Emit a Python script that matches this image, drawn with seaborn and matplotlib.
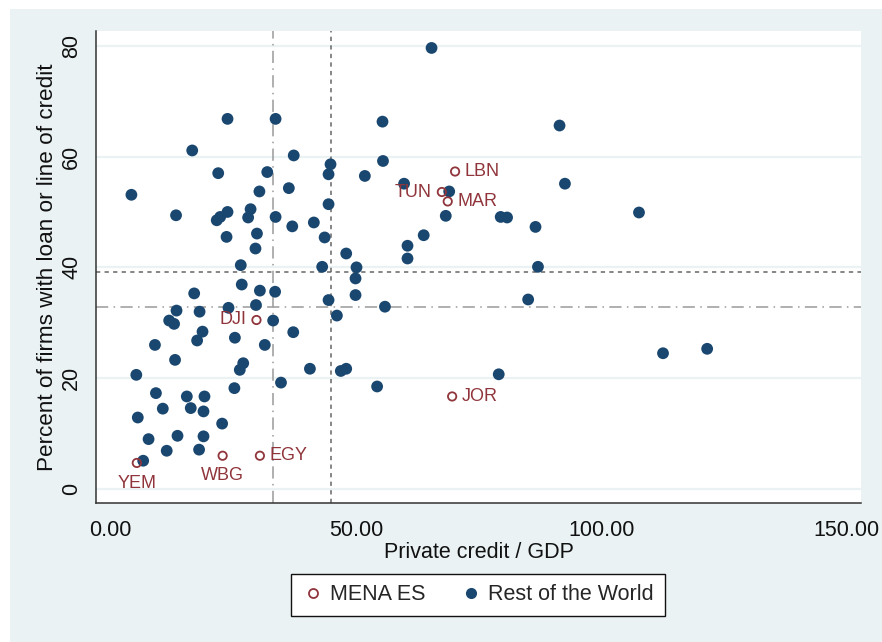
import numpy as np
import pandas as pd
import seaborn as sns
import matplotlib.pyplot as plt
from matplotlib.patches import Rectangle
from matplotlib.lines import Line2D

# rest of the world: private credit / GDP vs percent of firms with credit
rest_x = [23.8, 33.6, 55.4, 16.6, 37.3, 44.8, 55.5, 21.9, 31.9, 44.4, 51.8, 4.2, 30.3, 36.3,
          13.3, 44.4, 23.8, 22.3, 21.6, 28.5, 28.0, 33.6, 37.0, 41.4, 23.6, 29.8, 43.6, 29.5,
          48.0, 26.5, 43.1, 50.1, 49.9,
          26.7, 17.0, 30.4, 33.5, 49.9, 44.4, 55.9, 24.0, 29.6, 13.4, 18.1, 46.1, 33.1, 11.9,
          12.9, 18.7, 37.2, 17.6, 25.3, 9.0, 31.4, 13.1, 27.0, 26.3, 40.6, 46.9, 48.0, 5.2,
          34.7, 54.3, 25.2, 9.2, 15.5, 19.1, 10.6, 16.3, 18.9, 5.5, 22.7, 7.7, 13.6, 18.9,
          11.4, 18.0, 6.6,
          65.4, 91.5, 59.8, 92.6, 69.0, 68.3, 79.5, 80.8, 107.7, 86.6, 63.8, 60.5, 60.5, 87.1,
          85.1, 112.6, 121.6, 79.1]
rest_y = [66.8, 66.8, 66.3, 61.1, 60.2, 58.6, 59.2, 57.0, 57.2, 56.8, 56.5, 53.1, 53.7, 54.3,
          49.4, 51.4, 50.0, 49.1, 48.5, 50.5, 49.0, 49.1, 47.4, 48.1, 45.5, 46.1, 45.4, 43.4,
          42.5, 40.4, 40.1, 40.0, 38.0,
          36.9, 35.3, 35.8, 35.6, 35.0, 34.1, 32.9, 32.7, 33.2, 32.2, 32.0, 31.3, 30.4, 30.4,
          29.8, 28.4, 28.3, 26.8, 27.3, 26.0, 26.0, 23.3, 22.7, 21.5, 21.7, 21.3, 21.7, 20.6,
          19.2, 18.5, 18.2, 17.3, 16.7, 16.7, 14.5, 14.6, 14.0, 12.9, 11.8, 9.0, 9.6, 9.5,
          6.9, 7.1, 5.1,
          79.6, 65.6, 55.1, 55.1, 53.7, 49.3, 49.1, 49.0, 49.9, 47.3, 45.8, 43.9, 41.6, 40.1,
          34.2, 24.5, 25.3, 20.7]

# MENA enterprise surveys
mena_codes = ["LBN", "TUN", "MAR", "JOR", "DJI", "EGY", "WBG", "YEM"]
mena_x = [70.2, 67.5, 68.7, 69.6, 29.7, 30.4, 22.8, 5.3]
mena_y = [57.3, 53.6, 51.9, 16.7, 30.5, 6.0, 6.0, 4.7]
label_side = ["right", "left", "right", "right", "left", "right", "below", "below"]

# reference lines (averages)
vline_dashdot = 33.1
vline_dash = 45.0
hline_dash = 39.2
hline_dashdot = 32.9

x_ticks = [0, 50, 100, 150]
y_ticks = [0, 20, 40, 60, 80]

navy = "#1A476F"
cranberry = "#90353B"
bg = "#EAF2F3"

df_rest = pd.DataFrame({"credit": rest_x, "firms": rest_y})
df_mena = pd.DataFrame({"credit": mena_x, "firms": mena_y, "code": mena_codes})

sns.set_style("white")
plt.rcParams["font.family"] = ["Liberation Sans", "DejaVu Sans"]

fig = plt.figure(figsize=(8.82, 6.42), dpi=100)
fig.patch.set_facecolor("white")
fig.patches.append(Rectangle((10 / 882, 0), 1, 1 - 9 / 642, transform=fig.transFigure,
                             facecolor=bg, edgecolor="none", zorder=-10))
ax = fig.add_axes([96 / 882, 1 - 503 / 642, (861 - 96) / 882, (503 - 31) / 642])
ax.set_facecolor("white")

# grid
for yv in y_ticks:
    ax.axhline(yv, color=bg, lw=1.6, zorder=0)

# reference lines
ax.axvline(vline_dashdot, color="#9a9a9a", lw=1.1, ls=(0, (8, 3.5, 1, 3.5)), zorder=1)
ax.axvline(vline_dash, color="#666666", lw=1.1, ls=(0, (2.8, 2.8)), zorder=1)
ax.axhline(hline_dash, color="#666666", lw=1.1, ls=(0, (2.8, 2.8)), zorder=1)
ax.axhline(hline_dashdot, color="#9a9a9a", lw=1.1, ls=(0, (8, 3.5, 1, 3.5)), zorder=1)

sns.scatterplot(data=df_rest, x="credit", y="firms", ax=ax, color=navy, s=72,
                edgecolor="none", zorder=3, legend=False)
sns.scatterplot(data=df_mena, x="credit", y="firms", ax=ax, s=36, facecolors="none",
                edgecolor=cranberry, linewidth=1.3, zorder=4, legend=False)

for code, xv, yv, side in zip(mena_codes, mena_x, mena_y, label_side):
    if side == "right":
        off, ha, va = (7, 0), "left", "center"
    elif side == "left":
        off, ha, va = (-7, 0), "right", "center"
    else:
        off, ha, va = (0, -14.5), "center", "center"
    ax.annotate(code, (xv, yv), xytext=off, textcoords="offset points", ha=ha, va=va,
                color=cranberry, fontsize=13, zorder=5)

ax.set_xlim(-3.02, 152.97)
ax.set_ylim(-2.53, 82.66)
ax.set_xticks(x_ticks)
ax.set_xticklabels([f"{v:.2f}" for v in x_ticks])
ax.set_yticks(y_ticks)
ax.set_yticklabels([str(v) for v in y_ticks])
ax.tick_params(axis="both", direction="out", length=6, width=1, color="#333333",
               labelsize=15.5, labelcolor="#111111")
ax.tick_params(axis="y", labelrotation=90, pad=4)
ax.tick_params(axis="x", pad=6)
for lab in ax.get_yticklabels():
    lab.set_va("center")

for side in ["top", "right"]:
    ax.spines[side].set_visible(False)
for side in ["left", "bottom"]:
    ax.spines[side].set_color("#333333")
    ax.spines[side].set_linewidth(1.1)

ax.set_xlabel("Private credit / GDP", fontsize=15.5, color="#111111", labelpad=1)
ax.set_ylabel("Percent of firms with loan or line of credit", fontsize=16.2,
              color="#111111", labelpad=2)

handles = [
    Line2D([], [], ls="none", marker="o", markersize=6.5, markerfacecolor="none",
           markeredgecolor=cranberry, markeredgewidth=1.3, label="MENA ES"),
    Line2D([], [], ls="none", marker="o", markersize=8, markerfacecolor=navy,
           markeredgecolor="none", label="Rest of the World"),
]
leg = fig.legend(handles=handles, loc="center", bbox_to_anchor=(478 / 882, 1 - 595 / 642),
                 ncol=2, frameon=True, fancybox=False, fontsize=15.5, handletextpad=0.3,
                 columnspacing=1.6, borderpad=0.5, handlelength=1.0)
leg.get_frame().set_edgecolor("#111111")
leg.get_frame().set_linewidth(1.0)
leg.get_frame().set_facecolor("white")
leg.get_frame().set_alpha(1)

fig.savefig("out.png", dpi=100, facecolor=fig.get_facecolor())
